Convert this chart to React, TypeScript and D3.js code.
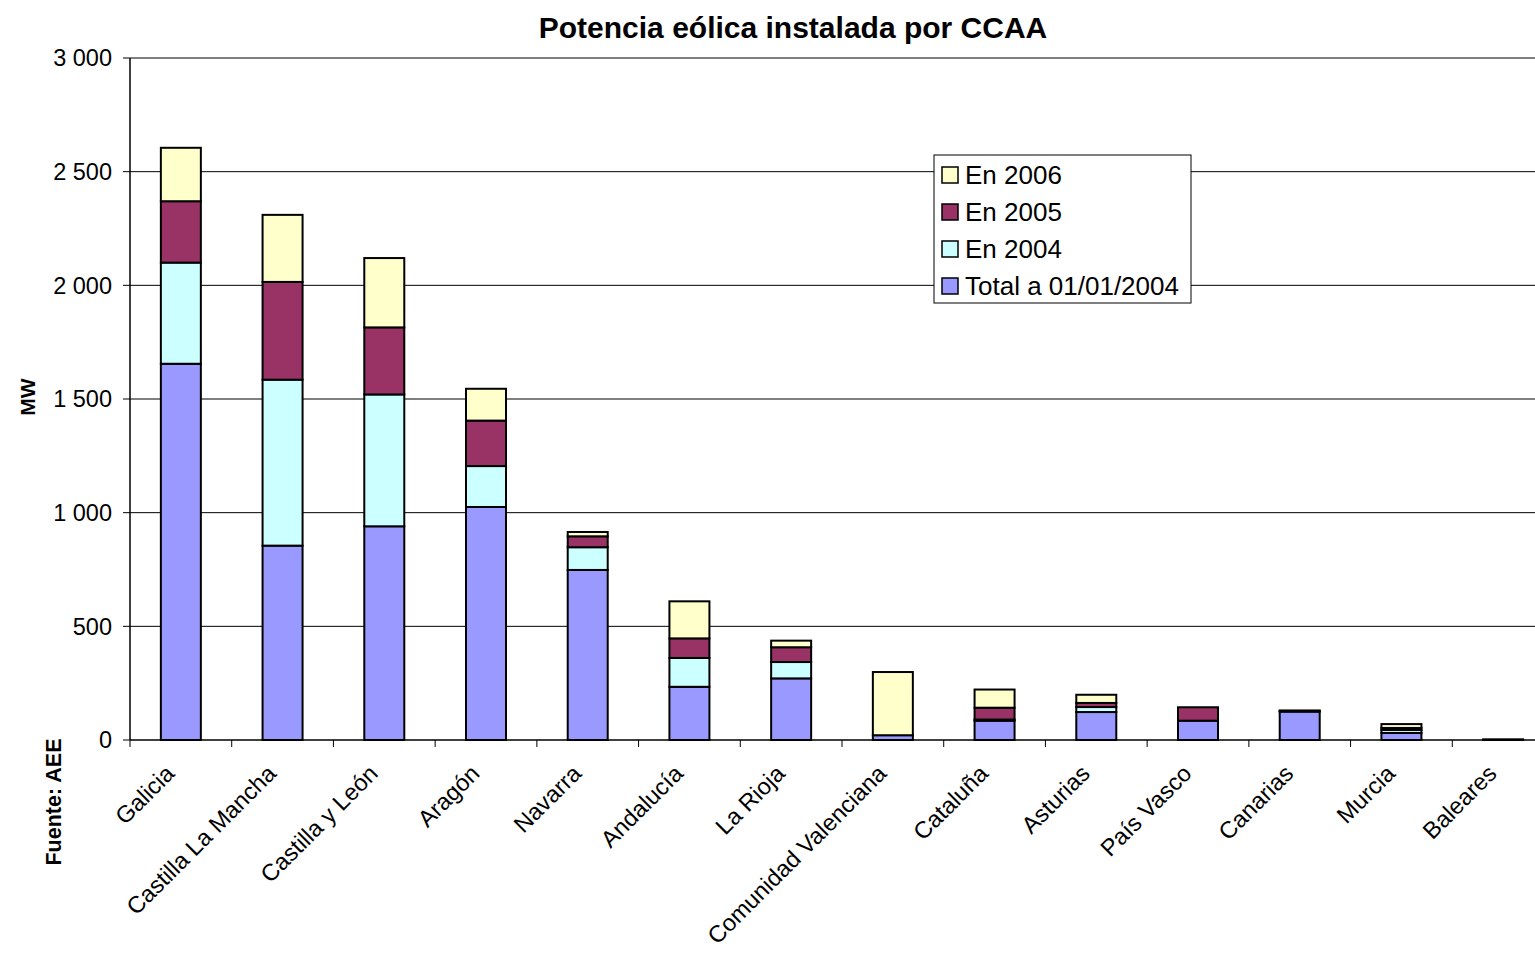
import React from "react";
import * as d3 from "d3";

const regions = [
  "Galicia", "Castilla La Mancha", "Castilla y León", "Aragón", "Navarra",
  "Andalucía", "La Rioja", "Comunidad Valenciana", "Cataluña", "Asturias",
  "País Vasco", "Canarias", "Murcia", "Baleares",
];
const total2004 = [1655, 855, 940, 1025, 748, 234, 271, 21, 85, 123, 85, 125, 31, 3];
const en2004 = [445, 730, 580, 180, 100, 127, 72, 0, 5, 22, 0, 2, 13, 0];
const en2005 = [270, 430, 295, 200, 48, 86, 65, 0, 52, 18, 59, 0, 9, 0];
const en2006 = [235, 295, 305, 140, 19, 163, 29, 278, 80, 36, 0, 3, 17, 0];
const yTicks = [0, 500, 1000, 1500, 2000, 2500, 3000];

const seriesKeys = ["total", "e2004", "e2005", "e2006"];
const seriesNames: Record<string, string> = {
  total: "Total a 01/01/2004",
  e2004: "En 2004",
  e2005: "En 2005",
  e2006: "En 2006",
};
const colors: Record<string, string> = {
  total: "#9999FF",
  e2004: "#CCFFFF",
  e2005: "#993366",
  e2006: "#FFFFCC",
};

const W = 1535;
const H = 953;
const left = 130;
const right = 1554;
const top = 58;
const bottom = 740;
const font = "'Liberation Sans', Arial, sans-serif";

const fmt = (v: number) => {
  const s = String(v);
  return s.length > 3 ? s.slice(0, s.length - 3) + " " + s.slice(-3) : s;
};

export default function App() {
  const rows = regions.map((r, i) => ({
    region: r,
    total: total2004[i],
    e2004: en2004[i],
    e2005: en2005[i],
    e2006: en2006[i],
  }));
  const stack = d3.stack<any>().keys(seriesKeys)(rows);
  const x = d3.scaleBand().domain(regions).range([left, right]).paddingInner(0).paddingOuter(0);
  const y = d3.scaleLinear().domain([0, 3000]).range([bottom, top]);
  const bw = 40;
  const legendOrder = ["e2006", "e2005", "e2004", "total"];

  return (
    <svg
      width={W}
      height={H}
      style={{ position: "absolute", left: 0, top: 0, background: "#fff" }}
      fontFamily={font}
    >
      <text x={793} y={38} textAnchor="middle" fontSize={30} fontWeight="bold">
        Potencia eólica instalada por CCAA
      </text>

      {yTicks.map((t) => (
        <g key={t}>
          {t > 0 && (
            <line x1={left} x2={right} y1={y(t)} y2={y(t)} stroke="#000" strokeWidth={1} />
          )}
          <line x1={left - 7} x2={left} y1={y(t)} y2={y(t)} stroke="#000" strokeWidth={1} />
          <text x={112} y={y(t)} dy="0.36em" textAnchor="end" fontSize={23.5}>
            {fmt(t)}
          </text>
        </g>
      ))}

      {stack.map((s) => (
        <g key={s.key}>
          {s.map((d, i) => {
            const h = y(d[0]) - y(d[1]);
            if (h <= 0) return null;
            const cx = (x(regions[i]) as number) + x.bandwidth() / 2;
            return (
              <rect
                key={i}
                x={cx - bw / 2}
                y={y(d[1])}
                width={bw}
                height={h}
                fill={colors[s.key]}
                stroke="#000"
                strokeWidth={2}
              />
            );
          })}
        </g>
      ))}

      <line x1={left} x2={left} y1={top} y2={bottom} stroke="#000" strokeWidth={1.5} />
      <line x1={left} x2={right} y1={bottom} y2={bottom} stroke="#000" strokeWidth={1.5} />
      {regions.map((r, i) => (
        <line
          key={r}
          x1={left + x.bandwidth() * i}
          x2={left + x.bandwidth() * i}
          y1={bottom}
          y2={bottom + 7}
          stroke="#000"
          strokeWidth={1}
        />
      ))}

      {regions.map((r) => {
        const cx = (x(r) as number) + x.bandwidth() / 2;
        return (
          <text
            key={r}
            transform={`translate(${cx - 5},${775}) rotate(-45)`}
            textAnchor="end"
            fontSize={23.5}
          >
            {r}
          </text>
        );
      })}

      <text
        transform={`translate(35,397) rotate(-90)`}
        textAnchor="middle"
        fontSize={21}
        fontWeight="bold"
      >
        MW
      </text>
      <text
        transform={`translate(61,802) rotate(-90)`}
        textAnchor="middle"
        fontSize={21.5}
        fontWeight="bold"
      >
        Fuente: AEE
      </text>

      <g>
        <rect x={934} y={155} width={257} height={148} fill="#fff" stroke="#000" strokeWidth={1} />
        {legendOrder.map((k, i) => (
          <g key={k} transform={`translate(0,${i * 37})`}>
            <rect x={942} y={167} width={16} height={16} fill={colors[k]} stroke="#000" strokeWidth={1.5} />
            <text x={965} y={184} fontSize={26}>
              {seriesNames[k]}
            </text>
          </g>
        ))}
      </g>
    </svg>
  );
}
